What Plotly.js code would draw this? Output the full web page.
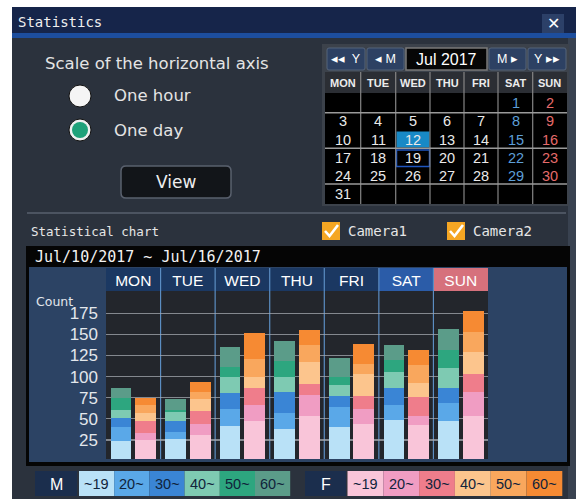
<!DOCTYPE html>
<html>
<head>
<meta charset="utf-8">
<script src="https://cdn.plot.ly/plotly-3.0.1.min.js"></script>
<style>html,body{margin:0;padding:0;background:#ffffff;}#chart{width:576px;height:499px;}</style>
</head>
<body>
<div id="chart"></div>
<script>
// ---------- data ----------
const days = ['MON', 'TUE', 'WED', 'THU', 'FRI', 'SAT', 'SUN'];
const ageGroups = ['~19', '20~', '30~', '40~', '50~', '60~'];
const yTicks = [25, 50, 75, 100, 125, 150, 175];
// Male (left bar of each day), count per age group
const male_u19 = [24, 26, 42, 38, 40, 49, 47];
const male_20s = [16, 9, 20, 19, 24, 18, 22];
const male_30s = [11, 13, 19, 25, 13, 20, 18];
const male_40s = [9, 10, 19, 18, 13, 19, 23];
const male_50s = [15, 3, 12, 18, 10, 14, 22];
const male_60s = [11, 13, 23, 24, 22, 17, 24];
// Female (right bar of each day)
const female_u19 = [25, 31, 47, 53, 44, 43, 53];
const female_20s = [8, 13, 19, 25, 18, 11, 29];
const female_30s = [15, 15, 21, 13, 15, 22, 21];
const female_40s = [9, 14, 12, 26, 26, 17, 26];
const female_50s = [10, 9, 22, 20, 12, 21, 24];
const female_60s = [8, 12, 31, 18, 24, 17, 25];
// calendar text (Jul 2017)
const calHead = ['MON', 'TUE', 'WED', 'THU', 'FRI', 'SAT', 'SUN'];
const calRows = [
  ['', '', '', '', '', '1', '2'],
  ['3', '4', '5', '6', '7', '8', '9'],
  ['10', '11', '12', '13', '14', '15', '16'],
  ['17', '18', '19', '20', '21', '22', '23'],
  ['24', '25', '26', '27', '28', '29', '30'],
  ['31', '', '', '', '', '', '']
];

// ---------- styles ----------
const maleSeries = [male_u19, male_20s, male_30s, male_40s, male_50s, male_60s];
const femaleSeries = [female_u19, female_20s, female_30s, female_40s, female_50s, female_60s];
const maleColors = ['#b9e1f7', '#5aa8e8', '#3a85d5', '#7ecab2', '#2da67f', '#5b9c89'];
const femaleColors = ['#f9c5d9', '#f09dc3', '#ef7d8b', '#fcc58d', '#f9a75d', '#f68a33'];
const headerColors = ['#1b3862', '#1b3862', '#1b3862', '#1b3862', '#1b3862', '#2b5ca8', '#d6717c'];

const W = 576, H = 499;
const MONO = 'DejaVu Sans Mono', SANS = 'DejaVu Sans', ARIAL = 'Liberation Sans';
const px = x => x / W, py = y => 1 - y / H;
const shapes = [], ann = [];
const NONE = 'rgba(0,0,0,0)';
function box(x0, y0, x1, y1, fill, lc, lw) {
  shapes.push({type: 'rect', xref: 'paper', yref: 'paper', x0: px(x0), x1: px(x1), y0: py(y1), y1: py(y0),
    fillcolor: fill, line: {color: lc || NONE, width: lc ? (lw || 1) : 0}, layer: 'below'});
}
function seg(x0, y0, x1, y1, color, w) {
  shapes.push({type: 'line', xref: 'paper', yref: 'paper', x0: px(x0), x1: px(x1), y0: py(y0), y1: py(y1),
    line: {color: color, width: w || 1}, layer: 'below'});
}
function circ(cx, cy, r, fill, lc, lw) {
  shapes.push({type: 'circle', xref: 'paper', yref: 'paper', x0: px(cx - r), x1: px(cx + r), y0: py(cy + r), y1: py(cy - r),
    fillcolor: fill, line: {color: lc || NONE, width: lc ? (lw || 1) : 0}, layer: 'below'});
}
function rbox(x0, y0, x1, y1, r, fill, lc, lw) {
  const P = (x, y) => px(x) + ',' + py(y);
  const path = 'M' + P(x0 + r, y0) + ' L' + P(x1 - r, y0) + ' Q' + P(x1, y0) + ' ' + P(x1, y0 + r) +
    ' L' + P(x1, y1 - r) + ' Q' + P(x1, y1) + ' ' + P(x1 - r, y1) + ' L' + P(x0 + r, y1) +
    ' Q' + P(x0, y1) + ' ' + P(x0, y1 - r) + ' L' + P(x0, y0 + r) + ' Q' + P(x0, y0) + ' ' + P(x0 + r, y0) + ' Z';
  shapes.push({type: 'path', xref: 'paper', yref: 'paper', path: path, fillcolor: fill,
    line: {color: lc || NONE, width: lc ? (lw || 1) : 0}, layer: 'below'});
}
function check(x0, y0) {
  const P = (x, y) => px(x) + ',' + py(y);
  shapes.push({type: 'path', xref: 'paper', yref: 'paper', layer: 'below',
    path: 'M' + P(x0 + 3, y0 + 9) + ' L' + P(x0 + 7.5, y0 + 14) + ' L' + P(x0 + 16, y0 + 3),
    line: {color: '#ffffff', width: 2.6}});
}
function text(x, y, t, size, color, family, anchor) {
  ann.push({xref: 'paper', yref: 'paper', x: px(x), y: py(y), text: t, showarrow: false,
    xanchor: anchor || 'left', yanchor: 'middle', font: {size: size, color: color, family: family}});
}

// dialog
box(12, 7, 576, 499, '#2b323d');
box(568, 38, 576, 499, '#394250');
box(12, 7, 576, 36, '#16254a');
box(12, 33, 576, 38, '#1d4e9e');
box(542, 14, 564, 33, '#2c4068');
text(553, 23, '✕', 16, '#ffffff', SANS, 'center');
text(16, 22, 'Statistics', 14, '#f0f0f0', MONO, 'left');

// left controls
text(157, 63, 'Scale of the horizontal axis', 16.5, '#e4e4e4', SANS, 'center');
circ(80, 96, 11, '#f5f5f5', '#111', 1);
text(112, 96, 'One hour', 16.5, '#e4e4e4', SANS, 'left');
circ(80, 130, 11, '#f0f0f0', '#111', 1);
circ(80, 130, 8, '#1fa27a');
text(112, 130, 'One day', 16.5, '#e4e4e4', SANS, 'left');
rbox(121, 166, 231, 198, 5, '#121519', '#5a616e', 1.5);
text(176, 182, 'View', 17, '#eeeeee', SANS, 'center');

// calendar
box(322, 44, 569, 206, '#3c424b');
const btns = [[327, 365, '◂◂  Y'], [367, 404, '◂ M'], [489, 526, 'M ▸'], [528, 566, 'Y ▸▸']];
btns.forEach(b => { rbox(b[0], 48, b[1], 70, 2, '#2d4163', '#55647b', 1); text((b[0] + b[1]) / 2, 59, b[2], 12.5, '#ffffff', ARIAL, 'center'); });
box(406, 48, 487, 70, '#060606', '#7a7a7a', 1.5);
text(446.5, 59, 'Jul 2017', 16, '#ffffff', ARIAL, 'center');
box(325, 72, 567, 93, '#2b2e34');
box(325, 93, 567, 204, '#000000');
box(396.5, 131.5, 429.5, 147.5, '#1889c6');
box(396.5, 150, 429.5, 166.5, NONE, '#1f56c0', 1.5);
const colEdges = [360.7, 395.7, 430, 464, 498, 532.7];
colEdges.forEach(x => seg(x, 72, x, 204, '#858585', 1.2));
[112.7, 148.3, 184].forEach(y => seg(325, y, 567, y, '#9a9a9a', 1.6));
const colCenters = [342.5, 378, 413, 447, 481, 515.5, 549.5];
calHead.forEach((d, i) => text(colCenters[i], 82.5, '<b>' + d + '</b>', 11, '#ececec', ARIAL, 'center'));
const rowY = [103, 121.5, 139.5, 157.5, 176, 194];
calRows.forEach((row, r) => row.forEach((d, i) => {
  if (!d) return;
  const c = i === 5 ? '#5d9fd8' : (i === 6 ? '#e56b6b' : '#eaeaea');
  text(colCenters[i], rowY[r], d, 14.5, c, ARIAL, 'center');
}));

// separator + chart header line
seg(27, 213, 566, 213, '#59616e', 1.5);
text(29, 231, 'Statistical chart', 12.5, '#e6e6e6', MONO, 'left');
box(322, 222, 340, 240, '#f5a623'); check(322, 222);
text(346, 231, 'Camera1', 14, '#e6e6e6', MONO, 'left');
box(447, 222, 465, 240, '#f5a623'); check(447, 222);
text(471, 231, 'Camera2', 14, '#e6e6e6', MONO, 'left');

// chart panel
box(26, 246, 570, 466, '#050505');
box(29, 267, 567, 462, '#2c4364');
text(33, 257, 'Jul/10/2017 ~ Jul/16/2017', 15, '#f2f2f2', MONO, 'left');
box(106, 291, 488, 459, '#23262c');
days.forEach((d, i) => shapes.push({type: 'rect', xref: 'x', yref: 'paper', x0: i - 0.5, x1: i + 0.5,
  y0: py(291), y1: py(268), fillcolor: headerColors[i], line: {width: 0}, layer: 'below'}));
days.slice(1).forEach((d, i) => shapes.push({type: 'line', xref: 'x', yref: 'paper', x0: i + 0.5, x1: i + 0.5,
  y0: py(459), y1: py(268), line: {color: '#5b8dc2', width: 1.2}, layer: 'below'}));
text(34, 301, 'Count', 12.5, '#e3e7ec', SANS, 'left');

// bottom legend
box(35, 471, 77, 496, '#1b2e4d');
text(56, 484, 'M', 16, '#ffffff', ARIAL, 'center');
ageGroups.forEach((g, k) => { const x0 = 79 + k * 35.2; box(x0, 471, x0 + 35.2, 496, maleColors[k]); text(x0 + 17.6, 484, g, 14.5, '#10233b', ARIAL, 'center'); });
box(305, 471, 346, 496, '#1b2e4d');
text(325.5, 484, 'F', 16, '#ffffff', ARIAL, 'center');
ageGroups.forEach((g, k) => { const x0 = 347.5 + k * 35.8; box(x0, 471, x0 + 35.8, 496, femaleColors[k]); text(x0 + 17.9, 484, g, 14.5, '#10233b', ARIAL, 'center'); });

// ---------- traces ----------
const traces = [];
maleSeries.forEach((vals, k) => traces.push({type: 'bar', name: 'M ' + ageGroups[k], x: days, y: vals,
  xaxis: 'x', yaxis: 'y', offset: -0.415, width: 0.378, marker: {color: maleColors[k], line: {width: 0}}}));
femaleSeries.forEach((vals, k) => traces.push({type: 'bar', name: 'F ' + ageGroups[k], x: days, y: vals,
  xaxis: 'x2', yaxis: 'y', offset: 0.035, width: 0.385, marker: {color: femaleColors[k], line: {width: 0}}}));

const layout = {
  width: W, height: H, margin: {l: 0, r: 0, t: 0, b: 0},
  paper_bgcolor: '#ffffff', plot_bgcolor: 'rgba(0,0,0,0)',
  barmode: 'stack', showlegend: false, hovermode: false,
  xaxis: {type: 'category', categoryarray: days, categoryorder: 'array', range: [-0.5, 6.5],
    domain: [px(106), px(488)], side: 'top', anchor: 'y', showgrid: false, zeroline: false, showline: false,
    ticks: '', ticklabelstandoff: 1, tickfont: {family: ARIAL, size: 15.5, color: '#ffffff'}, fixedrange: true},
  xaxis2: {type: 'category', categoryarray: days, categoryorder: 'array', range: [-0.5, 6.5],
    overlaying: 'x', anchor: 'y', visible: false, fixedrange: true},
  yaxis: {domain: [py(459), py(291)], range: [2.5, 201.4], tickvals: yTicks, ticktext: yTicks.map(String),
    showgrid: true, gridcolor: 'rgba(165,170,176,0.75)', gridwidth: 1.2, zeroline: false, showline: false,
    ticks: '', ticklabelstandoff: 7, tickfont: {family: ARIAL, size: 17, color: '#e3e7ec'}, fixedrange: true},
  shapes: shapes, annotations: ann
};
Plotly.newPlot('chart', traces, layout, {displayModeBar: false, staticPlot: true});
</script>
</body>
</html>
